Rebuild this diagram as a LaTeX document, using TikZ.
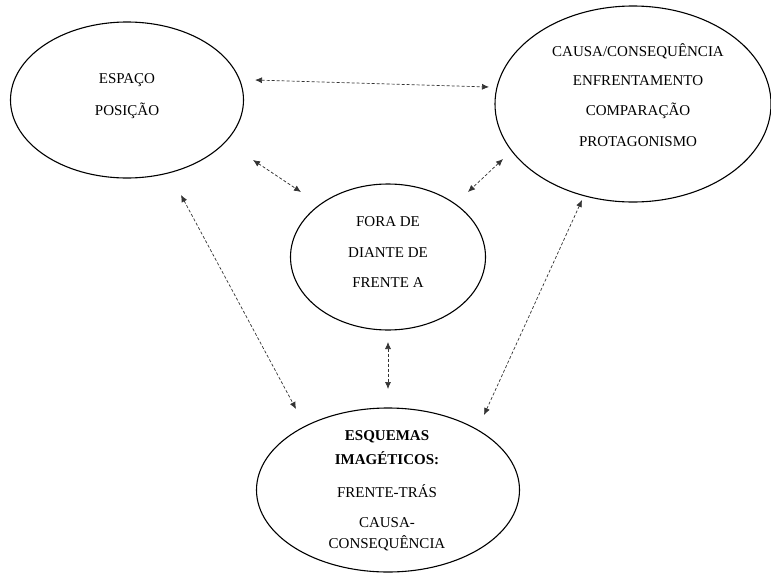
\documentclass[tikz,border=0pt]{standalone}
\usepackage{fontspec}
\setmainfont{Liberation Serif}
\usetikzlibrary{arrows.meta,shapes.geometric}
\begin{document}
\begin{tikzpicture}[x=1pt,y=-1pt,
  oval/.style={draw,ellipse,line width=1.1pt,inner sep=0pt},
  lbl/.style={font=\fontsize{15}{17}\selectfont,inner sep=0pt,anchor=center},
  blbl/.style={lbl,font=\fontsize{15}{17}\selectfont\bfseries},
  link/.style={dashed,dash pattern=on 3pt off 2pt,line width=0.7pt,black!80,{Latex[length=7pt,width=6pt]}-{Latex[length=7pt,width=6pt]}}]
\useasboundingbox (0,0) rectangle (771,573);
% ellipses
\node[oval,minimum width=233pt,minimum height=156pt] (A) at (127,100) {};
\node[oval,minimum width=276pt,minimum height=196pt] (B) at (633,104) {};
\node[oval,minimum width=195pt,minimum height=146pt] (C) at (388,257) {};
\node[oval,minimum width=263pt,minimum height=164pt] (D) at (388,490) {};
% texts
\node[lbl] (a1) at (127,80) {ESPAÇO};
\node[lbl] (a2) at (127,111) {POSIÇÃO};
\node[lbl] (b1) at (638,51) {CAUSA/CONSEQUÊNCIA};
\node[lbl] (b2) at (638,81) {ENFRENTAMENTO};
\node[lbl] (b3) at (638,111) {COMPARAÇÃO};
\node[lbl] (b4) at (638,142) {PROTAGONISMO};
\node[lbl] (c1) at (388,222) {FORA DE};
\node[lbl] (c2) at (388,253) {DIANTE DE};
\node[lbl] (c3) at (388,283) {FRENTE A};
\node[blbl] (d1) at (387,437) {ESQUEMAS};
\node[blbl] (d2) at (387,458) {IMAGÉTICOS:};
\node[lbl] (d3) at (387,491) {FRENTE-TRÁS};
\node[lbl] (d4) at (387,523) {CAUSA-};
\node[lbl] (d5) at (387,543) {CONSEQUÊNCIA};
% connector ends
\coordinate (ab1) at (255,80);  \coordinate (ab2) at (489,87);
\coordinate (ac1) at (253,160); \coordinate (ac2) at (301,192);
\coordinate (bc1) at (503,159); \coordinate (bc2) at (468,192);
\coordinate (cd1) at (388,342); \coordinate (cd2) at (388,389);
\coordinate (ad1) at (181,195); \coordinate (ad2) at (296,409);
\coordinate (bd1) at (582,200); \coordinate (bd2) at (484,415);
\draw[link] (ab1) -- (ab2);
\draw[link] (ac1) -- (ac2);
\draw[link] (bc1) -- (bc2);
\draw[link] (cd1) -- (cd2);
\draw[link] (ad1) -- (ad2);
\draw[link] (bd1) -- (bd2);
\end{tikzpicture}
\end{document}
